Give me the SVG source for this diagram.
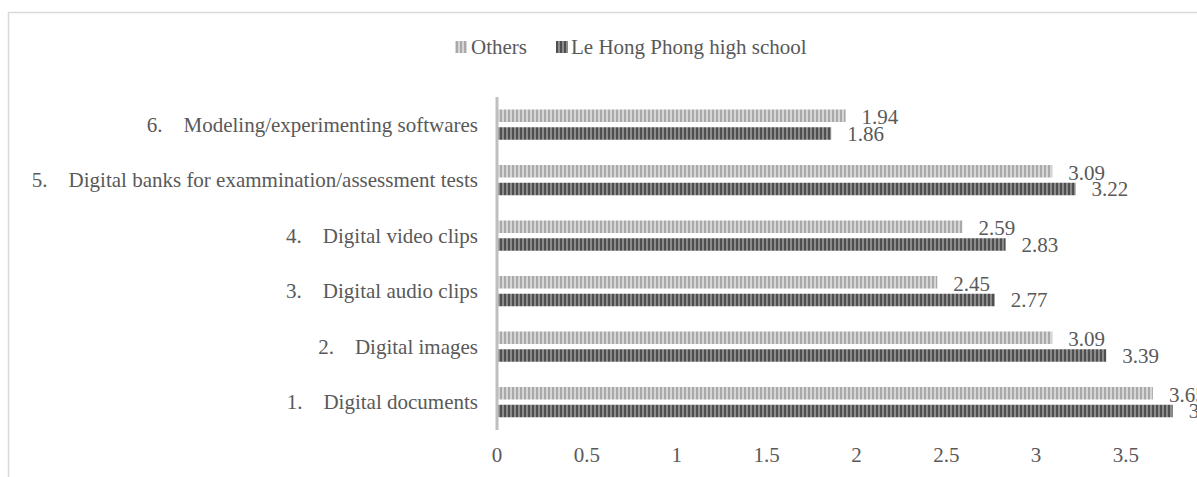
<svg xmlns="http://www.w3.org/2000/svg" width="1197" height="477" viewBox="0 0 1197 477">
  <style>
    text { font-family: "Liberation Serif", "Times New Roman", serif; font-size: 21px; fill: #595959; }
    .cat { text-anchor: end; }
    .tick { text-anchor: middle; }
    .frame { stroke: #d9d9d9; stroke-width: 1.5; fill: none; }
    .axis { stroke: #bfbfbf; stroke-width: 3; }
    .others { fill: url(#stripeLight); }
    .lhp { fill: url(#stripeDark); }
  </style>
  <defs>
    <pattern id="stripeLight" width="4" height="10" patternUnits="userSpaceOnUse">
      <rect width="4" height="10" fill="#d6d6d6"/>
      <rect width="2" height="10" fill="#a9a9a9"/>
    </pattern>
    <pattern id="stripeDark" width="4" height="10" patternUnits="userSpaceOnUse">
      <rect width="4" height="10" fill="#8c8c8c"/>
      <rect width="2" height="10" fill="#4f4f4f"/>
    </pattern>
  </defs>

  <rect width="1197" height="477" fill="#ffffff"/>
  <!-- chart frame (runs off the right and bottom edges) -->
  <path class="frame" d="M8.5 490 V12.5 H1210"/>

  <!-- legend -->
  <g id="legend">
    <rect class="others" x="455" y="41" width="12" height="12"/>
    <text x="471" y="54">Others</text>
    <rect class="lhp" x="556" y="41" width="12" height="12"/>
    <text x="571" y="54">Le Hong Phong high school</text>
  </g>

  <!-- category labels -->
  <g id="categories">
    <text class="cat" x="478" y="131.75">6.<tspan dx="21">Modeling/experimenting softwares</tspan></text>
    <text class="cat" x="478" y="187.25">5.<tspan dx="21">Digital banks for exammination/assessment tests</tspan></text>
    <text class="cat" x="478" y="242.75">4.<tspan dx="21">Digital video clips</tspan></text>
    <text class="cat" x="478" y="298.25">3.<tspan dx="21">Digital audio clips</tspan></text>
    <text class="cat" x="478" y="353.75">2.<tspan dx="21">Digital images</tspan></text>
    <text class="cat" x="478" y="409.25">1.<tspan dx="21">Digital documents</tspan></text>
  </g>

  <!-- bars: 179.7 px per unit from x=497 -->
  <g id="bars">
    <!-- 6 -->
    <rect class="others" x="497" y="109.5" width="348.6" height="12.5"/>
    <rect class="lhp" x="497" y="127.25" width="334.2" height="12.5"/>
    <!-- 5 -->
    <rect class="others" x="497" y="165" width="555.3" height="12.5"/>
    <rect class="lhp" x="497" y="182.75" width="578.6" height="12.5"/>
    <!-- 4 -->
    <rect class="others" x="497" y="220.5" width="465.4" height="12.5"/>
    <rect class="lhp" x="497" y="238.25" width="508.6" height="12.5"/>
    <!-- 3 -->
    <rect class="others" x="497" y="276" width="440.3" height="12.5"/>
    <rect class="lhp" x="497" y="293.75" width="497.8" height="12.5"/>
    <!-- 2 -->
    <rect class="others" x="497" y="331.5" width="555.3" height="12.5"/>
    <rect class="lhp" x="497" y="349.25" width="609.2" height="12.5"/>
    <!-- 1 -->
    <rect class="others" x="497" y="387" width="655.9" height="12.5"/>
    <rect class="lhp" x="497" y="404.75" width="675.7" height="12.5"/>
  </g>

  <!-- value labels -->
  <g id="values">
    <text x="861.6" y="124">1.94</text>
    <text x="847.2" y="140.75">1.86</text>
    <text x="1068.3" y="179.5">3.09</text>
    <text x="1091.6" y="196.25">3.22</text>
    <text x="978.4" y="235">2.59</text>
    <text x="1021.6" y="251.75">2.83</text>
    <text x="953.3" y="290.5">2.45</text>
    <text x="1010.8" y="307.25">2.77</text>
    <text x="1068.3" y="346">3.09</text>
    <text x="1122.2" y="362.75">3.39</text>
    <text x="1168.9" y="401.5">3.65</text>
    <text x="1188.7" y="418.25">3.76</text>
  </g>

  <!-- value axis line -->
  <line class="axis" x1="497" y1="97" x2="497" y2="430"/>

  <!-- horizontal axis tick labels -->
  <g id="axis-labels">
    <text class="tick" x="497" y="462">0</text>
    <text class="tick" x="586.85" y="462">0.5</text>
    <text class="tick" x="676.7" y="462">1</text>
    <text class="tick" x="766.55" y="462">1.5</text>
    <text class="tick" x="856.4" y="462">2</text>
    <text class="tick" x="946.25" y="462">2.5</text>
    <text class="tick" x="1036.1" y="462">3</text>
    <text class="tick" x="1125.95" y="462">3.5</text>
  </g>
</svg>
